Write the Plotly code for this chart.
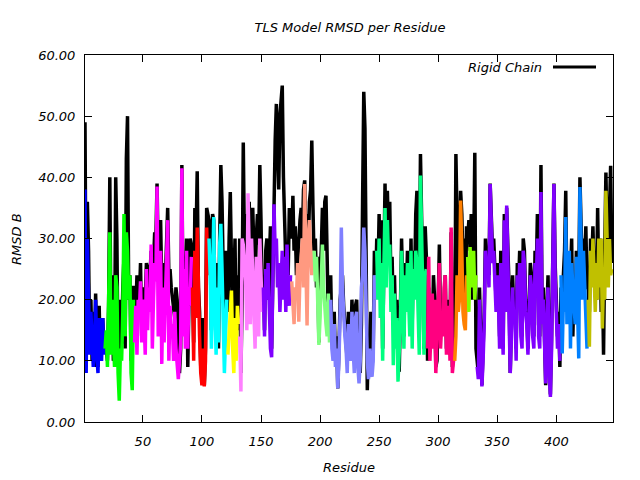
import plotly.graph_objects as go

# TLS segments: colour, TLS values, rigid-chain values (consecutive residues starting at 1)
seg_colors = ["#0000ff", "#00ff00", "#ff00ff", "#ff0000", "#00ffff", "#ffff00", "#ff80ff",
              "#8000ff", "#ff9980", "#80ff80", "#8080ff", "#00ff80", "#ff0080", "#ff8000",
              "#80ff00", "#8000ff", "#0080ff", "#c0c000"]

tls_blue = [38, 8, 30, 22, 11, 18, 14, 9, 12, 20, 11, 8, 17, 12, 10, 17, 11]
rig_blue = [49, 15, 36, 28, 12, 20, 10, 18, 9, 21, 12, 9, 19, 10, 14, 17, 12]

tls_green = [12, 15, 9, 18, 31, 11, 20, 14, 9, 24, 22, 8, 3.5, 12, 10, 18, 34, 14, 31, 28, 20, 24, 8, 5.2, 20]
rig_green = [14, 12, 10, 19, 40, 14, 24, 10, 11, 40, 30, 9, 20, 12, 13, 22, 27, 12, 43, 50, 20, 24, 10, 14, 22]

tls_magenta = [13, 19, 11, 20, 18, 23, 13, 20, 17, 11, 25, 15, 22, 18, 29, 12, 20, 26, 23, 38.5,
               14, 24, 28, 9.5, 22, 13, 20, 29, 33, 10, 19, 14, 16, 10, 18, 12, 10, 7, 10, 13,
               41.5, 14, 25, 12, 28, 12, 22, 19, 27]
rig_magenta = [22, 18, 24, 17, 20, 26, 14, 19, 22, 20, 26, 25, 18, 24, 28, 21, 26, 31, 30, 39,
               27, 24, 33, 22, 20, 26, 23, 31, 35, 24, 25, 22, 20, 19, 17, 22, 20, 15, 8, 12,
               42, 18, 27, 22, 30, 9, 24, 30, 29]

tls_red = [22, 10, 28, 17, 31.8, 20, 14, 8, 6, 12, 5.8, 10, 31.8, 24]
rig_red = [24, 13, 35, 30, 41, 22, 18, 9, 14, 17, 6, 12, 35, 34]

tls_cyan = [30, 24, 12, 27, 33.5, 18, 11, 22, 13, 29, 32.4, 25, 18, 8, 14, 20]
rig_cyan = [33, 28, 15, 34, 33, 20, 14, 26, 12, 30, 42, 36, 20, 14, 28, 22]

tls_yellow = [11, 15, 20, 21.5, 12, 8, 17, 10, 19, 16]
rig_yellow = [18, 30, 37.6, 26, 14, 22, 30, 12, 24, 15]

tls_pink = [14, 5, 30, 29, 26, 23, 15, 37.4, 28, 16, 30, 24, 20, 12, 27, 20, 14, 30, 22, 18]
rig_pink = [30, 8, 20, 45.7, 28, 34, 24, 33, 36, 27, 30, 35, 28, 22, 30, 34, 29, 42, 33, 20]

tls_purple = [22, 14, 25, 20, 26, 17, 12, 10.6, 24, 35.6, 28, 30, 22, 26, 18, 24, 28, 20, 27, 18, 29, 22, 19, 24]
rig_purple = [24, 15, 28, 30, 20, 26, 32, 12, 25, 36, 46, 52, 44, 38, 50, 53, 55, 40, 30, 26, 28, 24, 35, 32]

tls_salmon = [23, 18, 16, 22, 20, 26, 16.4, 24, 28, 30, 22, 38.9, 26, 15.8, 30, 33, 28, 24, 28]
rig_salmon = [30, 37, 28, 32, 24, 26, 30, 33, 35, 30, 38, 39.5, 30, 34, 28, 36, 38, 46, 35]

tls_lgreen = [28, 23, 27, 20, 12.6, 17, 26, 29, 22, 18, 16, 14, 21, 13]
rig_lgreen = [26, 30, 22, 27, 13, 24, 28, 35, 28, 36, 37, 27, 16, 22]

tls_peri = [20, 12, 10, 16, 9, 12, 5.5, 10, 18, 31.8, 22, 17, 14, 12, 8, 16, 14, 10, 18, 12,
            8, 17, 18, 9, 6.3, 10, 22, 24, 31.8, 28, 14, 10, 7, 12, 8, 7.4, 10, 24, 20]
rig_peri = [24, 14, 12, 18, 10, 14, 5.5, 12, 20, 22, 24, 19, 16, 14, 10, 18, 16, 12, 20, 14,
            10, 19, 20, 12, 14, 8, 16, 36, 54, 48, 32, 5.2, 14, 10, 18, 9, 12, 28, 22]

tls_spring = [28, 20, 30, 17, 26, 10, 25, 35, 22, 33, 26, 29, 18, 24, 9.3, 21, 12, 17, 6.6, 11,
              16, 28, 20, 12, 24, 18, 26, 20, 14, 28, 12, 25, 20, 28, 26, 18, 11, 40.3, 28, 20,
              11, 24, 25]
rig_spring = [30, 24, 34, 20, 33, 12, 28, 39, 25, 37.8, 30, 36, 22, 27, 17, 24, 15, 20, 9, 8.2,
              18, 30, 22, 14, 26, 20, 28, 24, 18, 30, 16, 28, 22, 34, 37.8, 26, 22, 43.8, 30, 24,
              12, 32, 27]

tls_dpink = [12, 27, 10, 16, 21, 12, 20, 8, 14, 23, 26, 12, 16, 14, 22, 24, 11, 14, 19, 10, 31.8, 8, 10]
rig_dpink = [10, 22, 12, 18, 14, 24, 20, 9, 10, 22, 29, 15, 18, 16, 22, 24, 12, 20, 16, 14, 31, 9, 12]

tls_orange = [10, 14, 24, 18, 20, 36.2, 28, 18, 16, 15, 24]
rig_orange = [12, 43.8, 30, 22, 28, 37.8, 34, 26, 30, 18, 32]

tls_chart = [27, 18, 28.6, 22, 25, 28, 20, 24]
rig_chart = [30, 33, 28, 34, 20, 26, 44, 12]

tls_purple2 = [9, 7, 20, 12, 5.8, 10, 16, 28, 25, 26, 22, 38.9, 30, 26, 28, 22, 18, 24, 20, 12,
               26, 18, 11, 33, 18, 35.4, 28, 20, 8, 14, 22, 16, 18, 10, 24, 20, 26, 14, 12, 28,
               26, 18, 16, 11, 20, 24, 22, 14, 12, 26, 22, 30, 14, 12, 37.6, 16, 20, 12, 6.3, 16,
               22, 8, 4.1, 12, 28, 38.9, 24, 18, 12, 16, 10]
rig_purple2 = [10, 8, 22, 14, 6, 12, 18, 30, 26, 28, 24, 39, 31, 28, 30, 24, 20, 26, 22, 14,
               28, 20, 12, 34, 20, 35, 30, 22, 8, 16, 24, 18, 20, 12, 26, 22, 28, 16, 14, 30,
               28, 20, 18, 12, 22, 26, 24, 16, 14, 28, 24, 34, 16, 14, 42, 18, 22, 14, 6, 18,
               24, 10, 4.5, 14, 30, 39, 26, 20, 14, 18, 9]

tls_azure = [24, 11.2, 20, 18, 33.5, 16, 22, 28, 12, 26, 22, 18, 16, 27, 20, 10.4, 38.4, 24, 20, 28, 22, 20, 12]
rig_azure = [22, 20, 24, 28, 37.8, 20, 18, 26, 24, 30, 14, 22, 16, 28, 26, 22, 40, 28, 24, 30, 26, 32, 22]

tls_olive = [20, 12.3, 28, 22, 30, 24, 18, 26, 20, 30, 22, 30, 15.3, 24, 20, 37.8, 28, 22, 30, 24, 25]
rig_olive = [22, 18, 30, 26, 32, 24, 28, 20, 35, 22, 30, 18, 24, 11, 28, 40.8, 30, 26, 34, 41.9, 26]

tls_segments = [tls_blue, tls_green, tls_magenta, tls_red, tls_cyan, tls_yellow, tls_pink,
                tls_purple, tls_salmon, tls_lgreen, tls_peri, tls_spring, tls_dpink, tls_orange,
                tls_chart, tls_purple2, tls_azure, tls_olive]
rigid_segments = [rig_blue, rig_green, rig_magenta, rig_red, rig_cyan, rig_yellow, rig_pink,
                  rig_purple, rig_salmon, rig_lgreen, rig_peri, rig_spring, rig_dpink, rig_orange,
                  rig_chart, rig_purple2, rig_azure, rig_olive]

x_ticks = [50, 100, 150, 200, 250, 300, 350, 400]
y_ticks = [0, 10, 20, 30, 40, 50, 60]

FONT = "DejaVu Sans"

# Build the rigid chain series and per-segment residue numbers
rigid_x, rigid_y = [], []
seg_x = []
start = 1
for tls, rig in zip(tls_segments, rigid_segments):
    n = len(rig)
    xs = list(range(start, start + n))
    rigid_x += xs
    rigid_y += rig
    seg_x.append(list(range(start, start + len(tls))))
    start += n

fig = go.Figure()
fig.add_trace(go.Scatter(x=rigid_x, y=rigid_y, mode="lines", name="Rigid Chain",
                         line=dict(color="#000000", width=3.5), showlegend=False))
for xs, tls, col in zip(seg_x, tls_segments, seg_colors):
    fig.add_trace(go.Scatter(x=xs, y=tls, mode="lines", line=dict(color=col, width=3.5),
                             showlegend=False))

# the page puts the figure 8px in from the window's top-left corner
OFF = 8
W, H = 640, 480
# target plot box in window pixels: x 85..613, y 55..422
L, T = 85 - OFF, 55 - OFF
R = W - (613 - OFF)
B = H - (422 - OFF)
pw, ph = W - L - R, H - T - B

def px(xw):
    return (xw - OFF - L) / pw

def py(yw):
    return (H - B - (yw - OFF)) / ph

fig.update_layout(
    width=W, height=H,
    margin=dict(l=L, r=R, t=T, b=B, autoexpand=False),
    paper_bgcolor="white", plot_bgcolor="white",
    font=dict(family=FONT, size=13, color="black"),
    title=dict(text="<i>TLS Model RMSD per Residue</i>", x=px(350), xanchor="center",
               xref="paper", y=1 - (27 - OFF) / H, yanchor="middle", font=dict(size=13)),
    xaxis=dict(range=[1, 448], tickvals=x_ticks, ticktext=[f"<i>{v}</i>" for v in x_ticks],
               showgrid=False, zeroline=False, showline=True, linecolor="black", linewidth=1,
               mirror="ticks", ticks="inside", ticklen=7, tickcolor="black",
               ticklabelstandoff=7, automargin=False),
    yaxis=dict(range=[0, 60], tickvals=y_ticks, ticktext=[f"<i>{v:.2f}</i>" for v in y_ticks],
               showgrid=False, zeroline=False, showline=True, linecolor="black", linewidth=1,
               mirror="ticks", ticks="inside", ticklen=7, tickcolor="black",
               ticklabelstandoff=6, automargin=False),
    showlegend=False,
)

# axis titles
fig.add_annotation(text="<i>Residue</i>", xref="paper", yref="paper", x=px(349), y=py(467),
                   xanchor="center", yanchor="middle", showarrow=False, font=dict(size=13))
fig.add_annotation(text="<i>RMSD B</i>", xref="paper", yref="paper", x=px(16), y=py(239),
                   xanchor="center", yanchor="middle", textangle=-90, showarrow=False,
                   font=dict(size=13))

# legend (gnuplot style: text then line sample)
fig.add_annotation(text="<i>Rigid Chain</i>", xref="paper", yref="paper",
                   x=px(544), y=py(67), xanchor="right", yanchor="middle",
                   showarrow=False, font=dict(size=13))
fig.add_shape(type="line", xref="paper", yref="paper", x0=px(553), x1=px(596),
              y0=py(67), y1=py(67), line=dict(color="black", width=3))

fig.write_html("out.html")
